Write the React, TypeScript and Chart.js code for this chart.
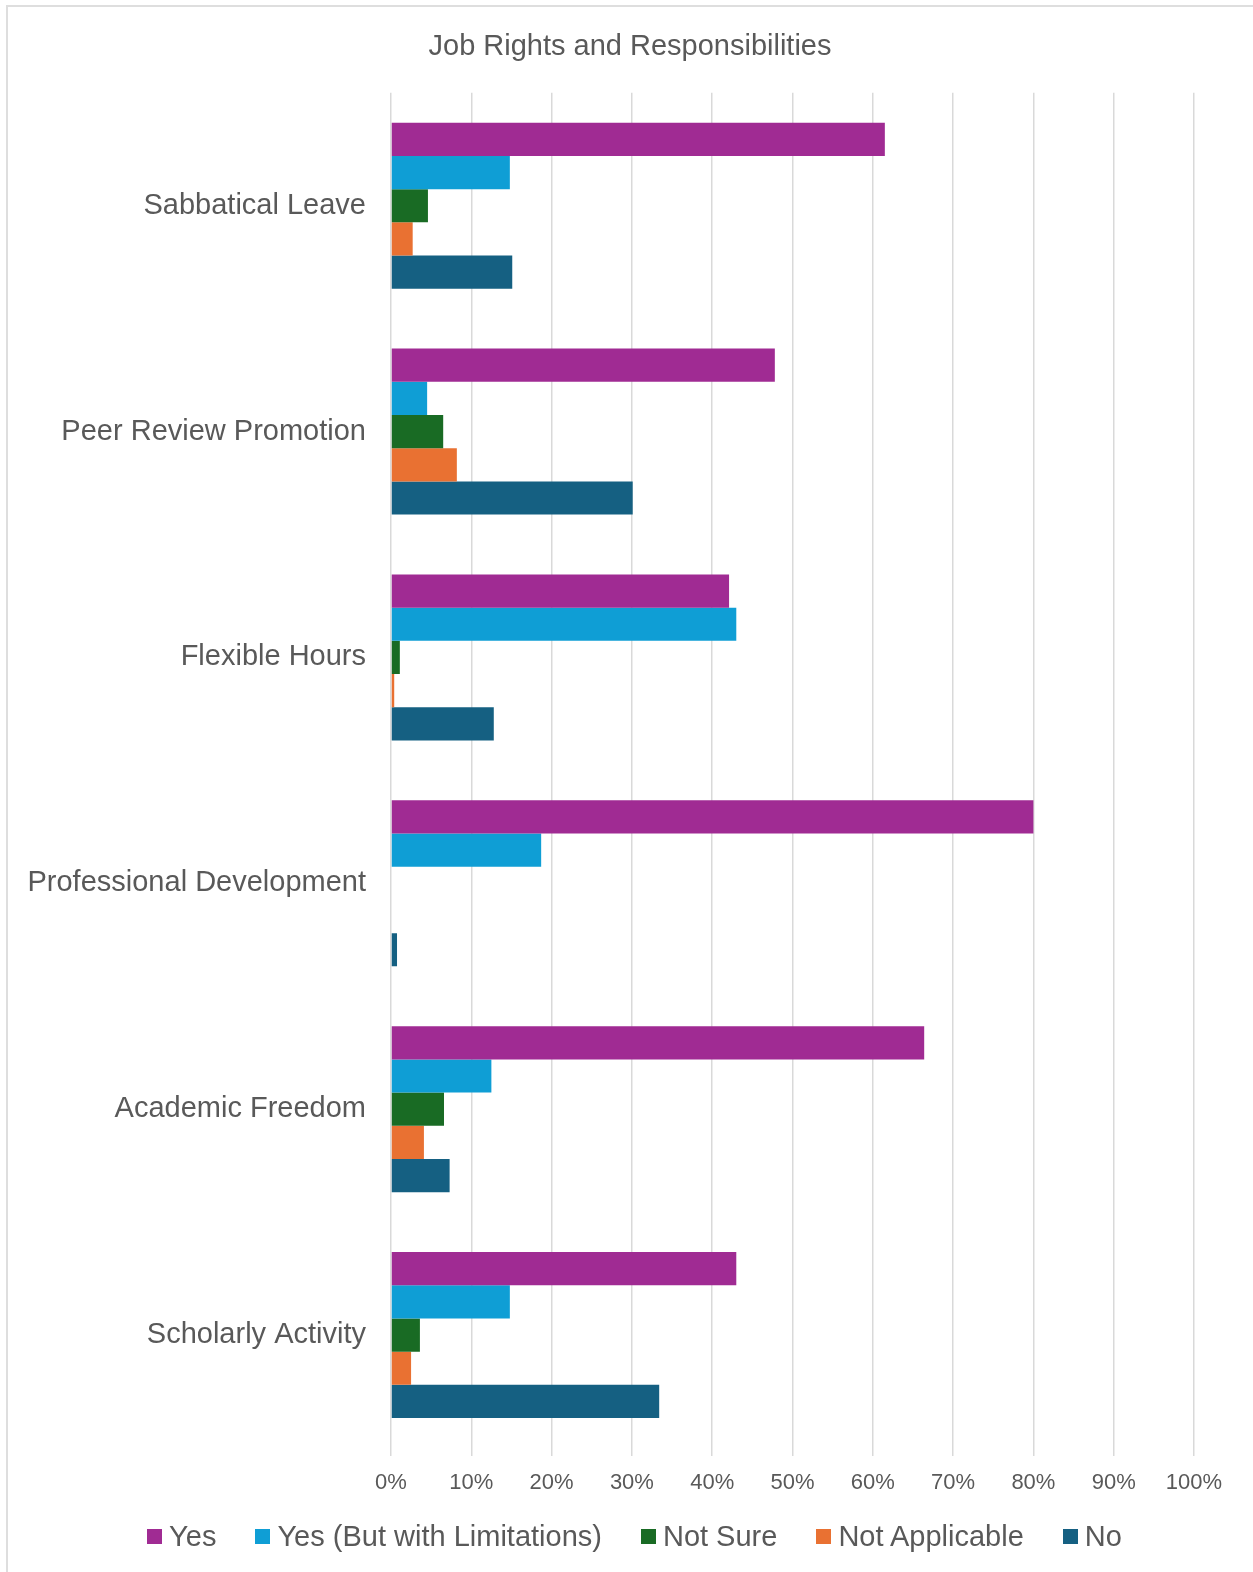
import React, { useEffect, useRef } from "react";
import { Chart, registerables } from "chart.js";

Chart.register(...registerables);

const categories = [
  "Sabbatical Leave",
  "Peer Review Promotion",
  "Flexible Hours",
  "Professional Development",
  "Academic Freedom",
  "Scholarly Activity",
];
const seriesNames = ["Yes", "Yes (But with Limitations)", "Not Sure", "Not Applicable", "No"];
const yesValues = [61.5, 47.8, 42.1, 80.0, 66.4, 43.0];
const yesLimitedValues = [14.8, 4.5, 43.0, 18.7, 12.5, 14.8];
const notSureValues = [4.6, 6.5, 1.1, 0, 6.6, 3.6];
const notApplicableValues = [2.7, 8.2, 0.4, 0, 4.1, 2.5];
const noValues = [15.1, 30.1, 12.8, 0.75, 7.3, 33.4];
const seriesColors = ["#A02B93", "#0F9ED5", "#196B24", "#E97132", "#156082"];
const xTickMin = 0;
const xTickMax = 100;
const xTickStep = 10;

const FONT = "'Liberation Sans', Arial, sans-serif";
const TEXT = "#595959";
const GRID = "#d9d9d9";

export default function App() {
  const ref = useRef<HTMLCanvasElement | null>(null);

  useEffect(() => {
    if (!ref.current) return;
    const seriesValues = [yesValues, yesLimitedValues, notSureValues, notApplicableValues, noValues];
    const chart = new Chart(ref.current, {
      type: "bar",
      data: {
        labels: categories,
        datasets: seriesNames.map((name, i) => ({
          label: name,
          data: seriesValues[i],
          backgroundColor: seriesColors[i],
          borderWidth: 0,
          categoryPercentage: 0.735,
          barPercentage: 1.0,
          yAxisID: "y",
        })),
      },
      options: {
        indexAxis: "y",
        animation: false,
        responsive: false,
        maintainAspectRatio: false,
        layout: { padding: { left: 7, right: 0, top: 0, bottom: 62.6 } },
        font: { family: FONT },
        plugins: {
          title: {
            display: true,
            text: "Job Rights and Responsibilities",
            color: TEXT,
            font: { family: FONT, size: 29, weight: "normal" },
            padding: { top: 29.5, bottom: 28.5 },
          },
          legend: { display: false },
          tooltip: { enabled: false },
        },
        scales: {
          x: {
            min: xTickMin,
            max: xTickMax,
            ticks: {
              stepSize: xTickStep,
              color: TEXT,
              font: { family: FONT, size: 22 },
              padding: 13.5,
              callback: (v: any) => v + "%",
            },
            grid: {
              color: GRID,
              lineWidth: 1.5,
              drawTicks: true,
              tickLength: 8,
            },
            border: { display: false },
          },
          y: {
            position: "left",
            ticks: {
              color: TEXT,
              font: { family: FONT, size: 29 },
              padding: 25,
            },
            grid: { display: false, drawTicks: false },
            border: { display: false },
            afterFit: (scale: any) => {
              scale.width = 384;
            },
          },
          yRightSpace: {
            type: "category",
            position: "right",
            display: true,
            ticks: { display: false },
            grid: { display: false, drawTicks: false },
            border: { display: false },
            afterFit: (scale: any) => {
              scale.width = 59;
            },
          },
        },
      },
    });
    return () => chart.destroy();
  }, []);

  return (
    <div style={{ position: "absolute", left: 0, top: 0, width: 1253, height: 1572, background: "#fff", overflow: "hidden" }}>
      <div
        style={{
          position: "absolute",
          left: 6,
          top: 5,
          width: 1260,
          height: 1580,
          borderTop: "2px solid #dedede",
          borderLeft: "2px solid #dedede",
        }}
      />
      <canvas
        ref={ref}
        width={1253}
        height={1572}
        style={{ position: "absolute", left: 0, top: 0, width: 1253, height: 1572 }}
      />
      <div
        style={{
          position: "absolute",
          left: 0,
          top: 1522.4,
          width: 1269,
          display: "flex",
          justifyContent: "center",
          alignItems: "center",
          gap: 39,
          fontFamily: FONT,
          fontSize: 29,
          lineHeight: "29px",
          color: TEXT,
          whiteSpace: "nowrap",
        }}
      >
        {seriesNames.map((name, i) => (
          <div key={name} style={{ display: "flex", alignItems: "center" }}>
            <span
              style={{
                display: "inline-block",
                width: 15,
                height: 15,
                background: seriesColors[i],
                marginRight: 7,
              }}
            />
            <span>{name}</span>
          </div>
        ))}
      </div>
    </div>
  );
}
